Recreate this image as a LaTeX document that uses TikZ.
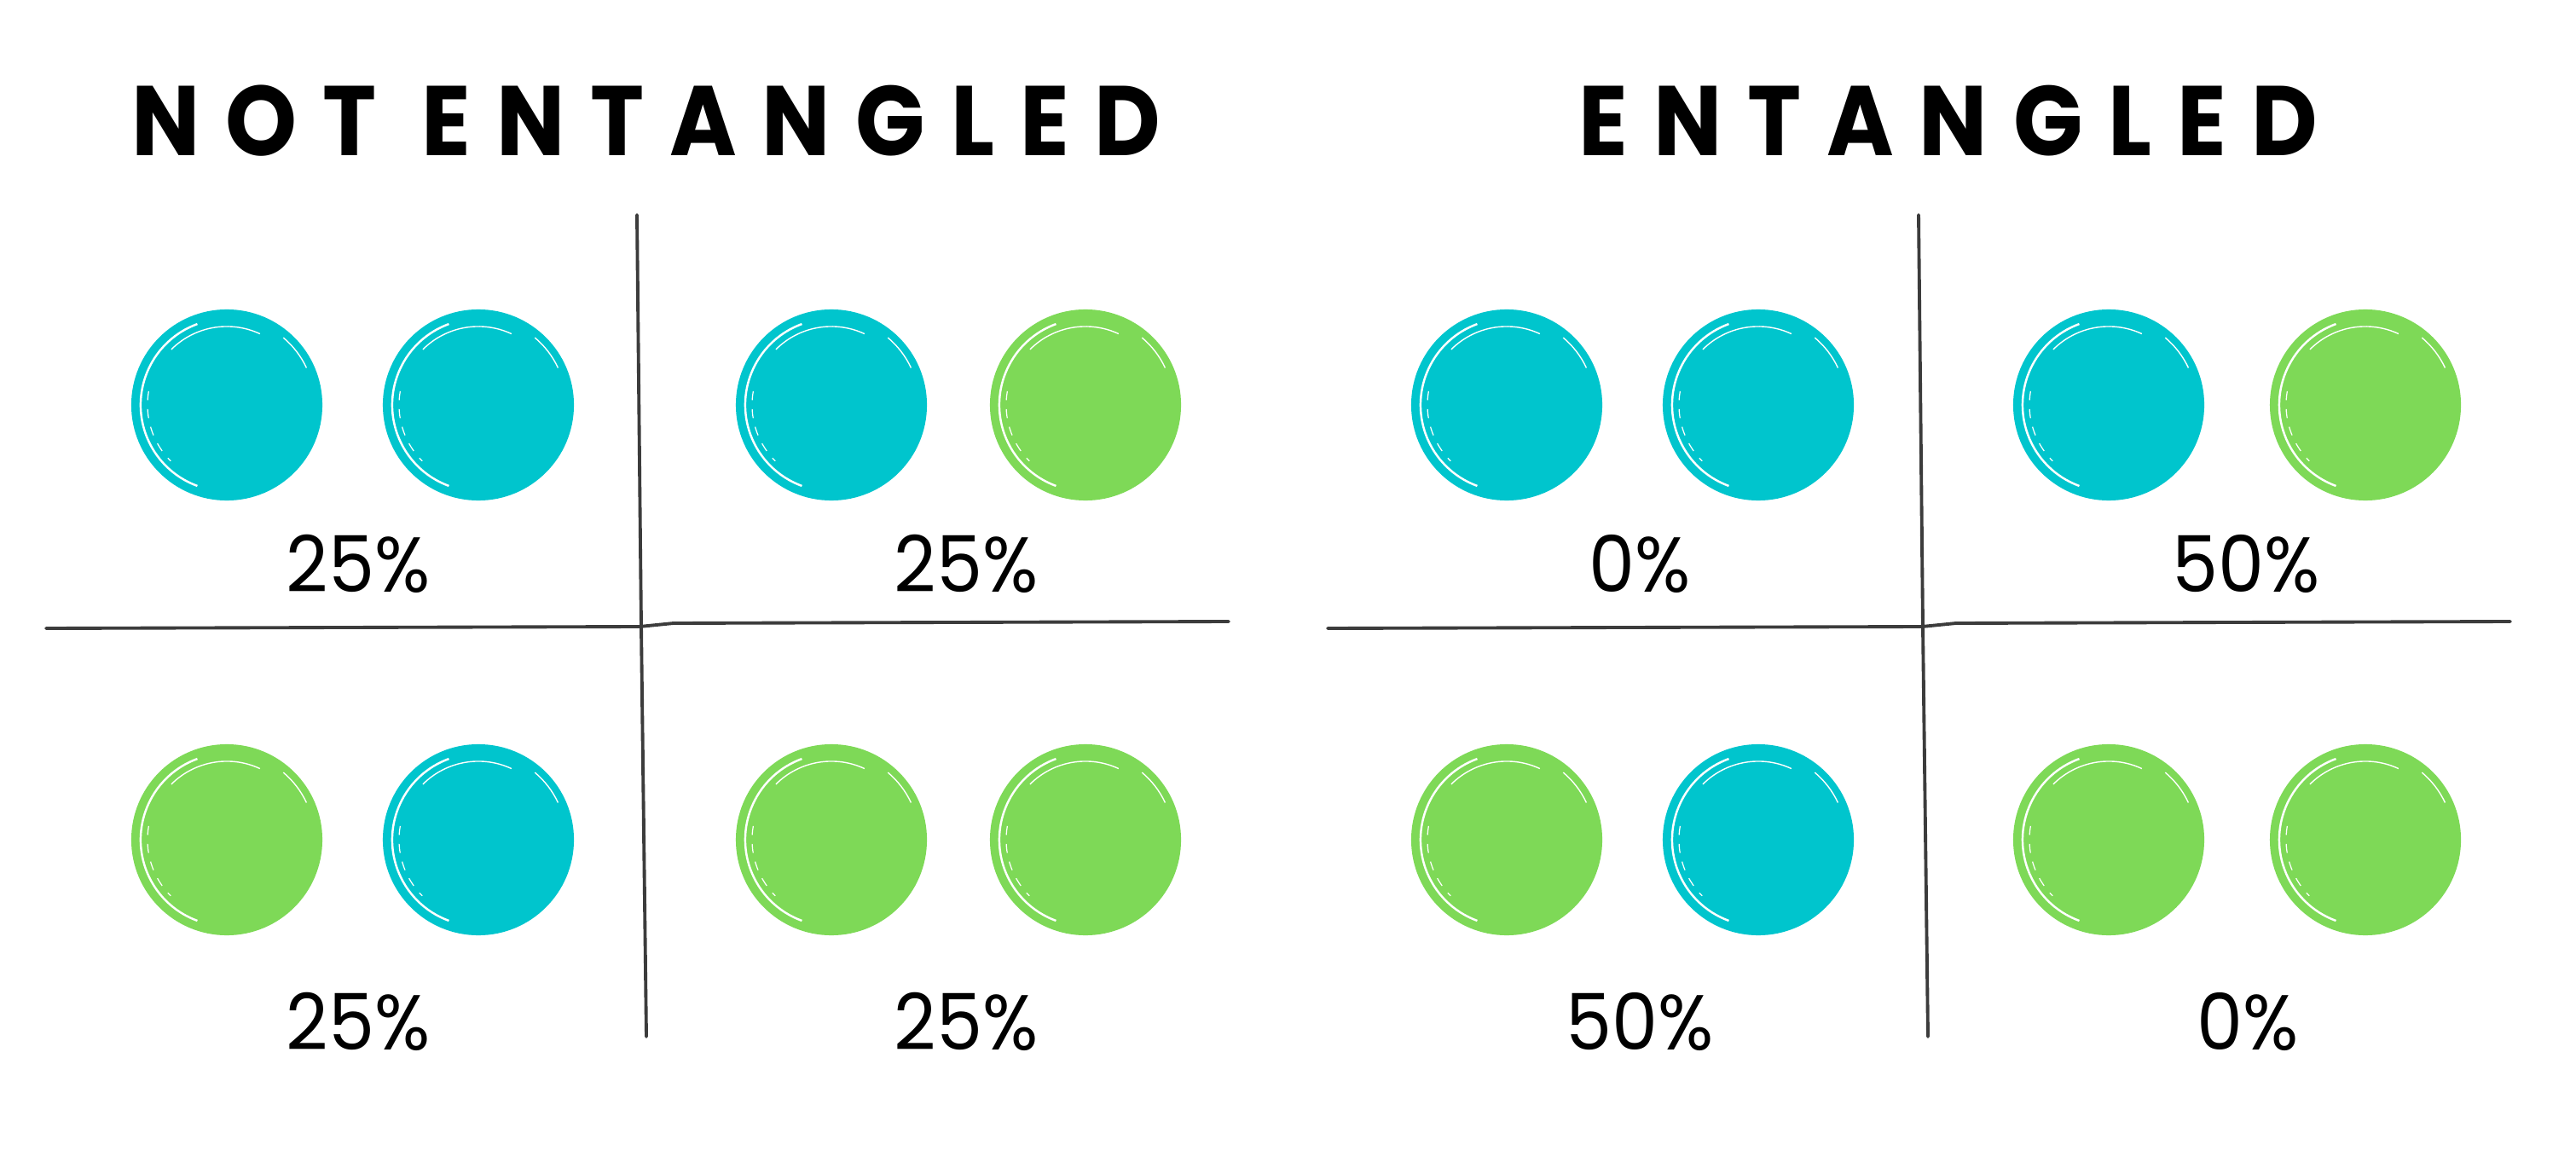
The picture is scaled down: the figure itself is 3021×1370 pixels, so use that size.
\documentclass[tikz,border=0pt]{standalone}
\usepackage{fontspec}
\newfontfamily\titlefont[LetterSpace=28]{Poppins}
\newfontfamily\pctfont{Poppins}
\definecolor{tealc}{RGB}{0,197,205}
\definecolor{greenc}{RGB}{126,217,87}
\definecolor{linec}{RGB}{60,60,60}
\tikzset{
  ball/.style={circle, fill=#1, inner sep=0pt, minimum size=2.24cm,
    path picture={
      \coordinate (pc) at (path picture bounding box.center);
      \draw[white, line width=0.7pt] ([shift={(110:1.01cm)}]pc) arc[start angle=110, end angle=250, radius=1.01cm];
      \draw[white, line width=0.4pt] ([shift={(65:0.92cm)}]pc) arc[start angle=65, end angle=135, radius=0.92cm];
      \draw[white, line width=0.35pt, dashed] ([shift={(170:0.93cm)}]pc) arc[start angle=170, end angle=225, radius=0.93cm];
      \draw[white, line width=0.4pt] ([shift={(25:1.03cm)}]pc) arc[start angle=25, end angle=50, radius=1.03cm];
    }},
  pct/.style={font=\pctfont\fontsize{26}{30}\selectfont, inner sep=0pt, xscale=0.94},
  ttl/.style={font=\titlefont\bfseries\fontsize{33}{40}\selectfont, inner sep=0pt, xscale=0.92},
  grid/.style={draw=linec, line width=1.1pt, line cap=round},
}
\begin{document}
\begin{tikzpicture}[x=0.01cm, y=-0.01cm]
\useasboundingbox[fill=white] (0,0) rectangle (3021,1370);
% titles
\node[ttl] (t1) at (758,142) {NOT ENTANGLED};
\node[ttl] (t2) at (2285,142) {ENTANGLED};
% left panel grid
\coordinate (lh1) at (54,737);
\coordinate (lh2) at (750,735);
\coordinate (lh3) at (790,731);
\coordinate (lh4) at (1441,729);
\coordinate (lv1) at (747,252);
\coordinate (lv2) at (752,735);
\coordinate (lv3) at (758,1216);
\draw[grid] (lh1) -- (lh2) -- (lh3) -- (lh4);
\draw[grid] (lv1) -- (lv2) -- (lv3);
% right panel grid
\coordinate (rh1) at (1557,737);
\coordinate (rh2) at (2254,735);
\coordinate (rh3) at (2294,731);
\coordinate (rh4) at (2944,729);
\coordinate (rv1) at (2250,252);
\coordinate (rv2) at (2255,735);
\coordinate (rv3) at (2261,1216);
\draw[grid] (rh1) -- (rh2) -- (rh3) -- (rh4);
\draw[grid] (rv1) -- (rv2) -- (rv3);
% left panel balls
\node[ball=tealc] (a1) at (266,475) {};
\node[ball=tealc] (a2) at (561,475) {};
\node[ball=tealc] (a3) at (975,475) {};
\node[ball=greenc] (a4) at (1273,475) {};
\node[ball=greenc] (a5) at (266,985) {};
\node[ball=tealc] (a6) at (561,985) {};
\node[ball=greenc] (a7) at (975,985) {};
\node[ball=greenc] (a8) at (1273,985) {};
% right panel balls
\node[ball=tealc] (b1) at (1767,475) {};
\node[ball=tealc] (b2) at (2062,475) {};
\node[ball=tealc] (b3) at (2473,475) {};
\node[ball=greenc] (b4) at (2774,475) {};
\node[ball=greenc] (b5) at (1767,985) {};
\node[ball=tealc] (b6) at (2062,985) {};
\node[ball=greenc] (b7) at (2473,985) {};
\node[ball=greenc] (b8) at (2774,985) {};
% percentages
\node[pct] (p1) at (420,661) {25\%};
\node[pct] (p2) at (1133,661) {25\%};
\node[pct] (p3) at (420,1198) {25\%};
\node[pct] (p4) at (1133,1198) {25\%};
\node[pct] (q1) at (1923,661) {0\%};
\node[pct] (q2) at (2634,661) {50\%};
\node[pct] (q3) at (1923,1198) {50\%};
\node[pct] (q4) at (2636,1198) {0\%};
\end{tikzpicture}
\end{document}
